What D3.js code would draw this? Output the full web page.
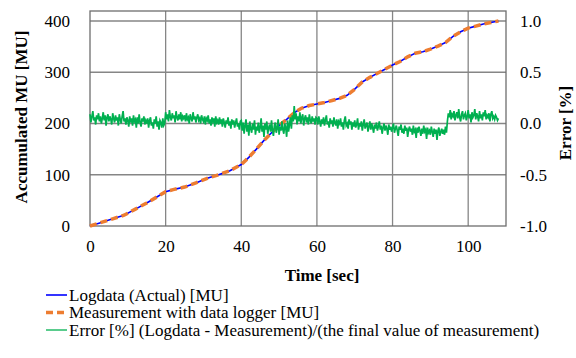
<!DOCTYPE html>
<html><head><meta charset="utf-8">
<script src="https://cdn.jsdelivr.net/npm/d3@7"></script>
<style>body{margin:0;background:#fff}svg{display:block}</style>
</head><body>
<svg id="c" width="576" height="358"></svg>
<script>
// ---- data ----
const xTicks = [0, 20, 40, 60, 80, 100];
const muTicks = [0, 100, 200, 300, 400];
const errTicks = [-1.0, -0.5, 0.0, 0.5, 1.0];

const logTime = [0,3,6,9,12,15,18,20,22,25,28,31,34,37,40,42,44,46,48,50,52,54,56,58,60,62,64,66,68,70,72,74,76,78,80,82,84,86,88,90,92,94,96,98,100,102,104,106,108];
const logMU   = [0,7,14,21,33,45,58,67,71,76,84,93,100,108,120,134,150,167,182,196,208,221,230,235,238,241,245,249,255,267,281,290,298,306,314,321,330,337,340,345,351,358,370,379,386,390,394,397,400];
const measMU  = [0,7,14,21,33,45,58,67,71,76,84,93,100,108,120,134,150,167,182,196,208,221,230,235,238,241,245,249,255,267,281,290,298,306,314,321,330,337,340,345,351,358,370,379,386,390,394,397,400];

const errInterval = 0.25; // seconds between error samples
const errPct = [
.09,.01,.07,.12,.03,.06,-.01,.08,.04,.10,.02,.07,.00,.05,.11,.03,.08,-.02,.06,.09,
.02,.07,.04,-.01,.10,.05,.01,.08,.03,.06,-.02,.09,.04,.00,.07,.12,.02,.05,-.01,.06,
.03,-.03,.07,.01,.05,-.02,.08,.02,.04,-.04,.06,.00,.09,.01,-.03,.05,.02,.07,-.01,.03,
.00,.05,-.04,.03,.06,-.02,.01,-.05,.04,.00,.07,-.03,.02,-.06,.03,.01,-.04,.05,-.02,.00,
.11,.04,.09,.02,.13,.06,.03,.10,.05,.08,.01,.12,.06,.03,.09,.04,.11,.02,.07,.05,
.08,.02,.10,.04,.06,.00,.09,.05,.02,.11,.04,.07,.01,.06,.09,.03,.05,.00,.08,.04,
.02,.07,-.01,.05,.03,.08,.00,.04,-.02,.06,.02,.05,-.03,.07,.01,.03,-.01,.06,.00,.04,
-.03,.05,.01,-.04,.03,.00,.06,-.02,.02,-.05,.04,-.01,.03,-.04,.01,.05,-.03,.00,-.06,.02,
.03,-.07,.01,-.10,-.02,.04,-.08,-.01,-.12,.02,-.05,-.09,.00,-.06,.03,-.11,-.03,-.07,.01,-.09,
-.04,.05,-.08,-.02,-.13,.00,-.06,.02,-.10,-.04,-.01,-.08,.03,-.07,-.12,-.02,.01,-.09,-.05,.04,
-.11,-.03,-.07,.02,-.06,-.10,.00,-.04,-.13,.03,-.08,-.01,.06,-.05,.08,.02,
.17,.04,.10,-.01,.07,.02,.11,.00,.06,.09,-.02,.05,.08,.01,.06,-.01,.09,.03,.00,.07,.02,.05,-.01,.06,
.05,-.01,.07,.02,-.03,.04,.00,.06,-.02,.03,.08,-.01,.02,-.04,.05,.00,.03,-.03,.06,.01,
-.02,.04,-.05,.02,.00,.05,-.03,.01,-.06,.03,.07,-.02,.00,-.05,.04,-.01,.02,-.06,.01,-.03,
.03,-.04,-.01,.05,-.06,.00,-.03,.02,-.07,-.01,.04,-.05,-.02,.01,-.08,-.03,.02,-.06,.00,-.04,
-.09,-.01,-.05,.01,-.07,-.03,.02,-.06,-.02,-.10,-.04,.00,-.07,-.02,-.05,-.11,-.01,-.06,-.03,-.08,
-.04,.00,-.09,-.05,-.02,-.07,-.12,-.03,-.06,-.01,-.09,-.05,-.10,-.02,-.07,-.04,-.13,-.06,-.03,-.08,
-.05,-.11,-.02,-.08,-.06,-.14,-.04,-.09,-.03,-.07,-.12,-.05,-.10,-.02,-.08,-.06,-.15,-.04,-.09,-.07,
-.11,-.03,-.08,-.13,-.05,-.10,-.06,-.16,-.07,-.04,-.12,-.08,-.05,-.10,-.06,-.11,-.03,-.09,
.02,.10,.06,.13,.04,.09,.07,.12,.03,.08,.11,.05,.14,.06,.02,.09,.12,.04,.08,.10,
.03,.07,.13,.05,.09,.01,.11,.06,.08,.14,.04,.10,.07,.02,.12,.05,.09,.03,.11,.07,
.13,.04,.08,.06,.10,.02,.09,.12,.05,.07,.04,.08,.06,.03,.05
];

const legendLabels = [
  "Logdata (Actual) [MU]",
  "Measurement with data logger [MU]",
  "Error [%] (Logdata - Measurement)/(the final value of measurement)"
];

// ---- layout ----
const svg = d3.select("#c");
const L = 90, R = 506, T = 11, B = 226;
const x = d3.scaleLinear().domain([0, 110]).range([L, R]);
const y = d3.scaleLinear().domain([0, 400]).range([B, 21]);
const y2 = d3.scaleLinear().domain([-1, 1]).range([B, 21]);
const font = "'Liberation Serif','Times New Roman',serif";
const fs = 17;

// gridlines
svg.append("g").selectAll("line").data(xTicks.filter(d => d > 0)).join("line")
  .attr("x1", d => x(d)).attr("x2", d => x(d)).attr("y1", T).attr("y2", B)
  .attr("stroke", "#868686").attr("stroke-width", 1.3);
svg.append("g").selectAll("line").data(muTicks.filter(d => d > 0)).join("line")
  .attr("x1", L).attr("x2", R).attr("y1", d => y(d)).attr("y2", d => y(d))
  .attr("stroke", "#868686").attr("stroke-width", 1.3);
svg.append("rect").attr("x", L).attr("y", T).attr("width", R - L).attr("height", B - T)
  .attr("fill", "none").attr("stroke", "#6e6e6e").attr("stroke-width", 1.3);

// axes (labels only)
const axB = d3.axisBottom(x).tickValues(xTicks).tickSize(0).tickPadding(14).tickFormat(d3.format("d"));
const gB = svg.append("g").attr("transform", `translate(0,${B})`).call(axB);
const axL = d3.axisLeft(y).tickValues(muTicks).tickSize(0).tickPadding(20).tickFormat(d3.format("d"));
const gL = svg.append("g").attr("transform", `translate(${L},0)`).call(axL);
const axR = d3.axisRight(y2).tickValues(errTicks).tickSize(0).tickPadding(14).tickFormat(d3.format(".1f"));
const gR = svg.append("g").attr("transform", `translate(${R},0)`).call(axR);
[gB, gL, gR].forEach(g => {
  g.select(".domain").remove();
  g.selectAll("text").attr("font-family", font).attr("font-size", fs).attr("fill", "#000");
});
gR.selectAll("text").text(d => d3.format(".1f")(d).replace("−", "-"));

// lines
const lineMU = d3.line().x(d => x(d[0])).y(d => y(d[1]));
svg.append("path").datum(logTime.map((t, i) => [t, logMU[i]]))
  .attr("d", lineMU).attr("fill", "none").attr("stroke", "#0000ff").attr("stroke-width", 1.6);
svg.append("path").datum(logTime.map((t, i) => [t, measMU[i]]))
  .attr("d", lineMU).attr("fill", "none").attr("stroke", "#ed7d31").attr("stroke-width", 3.5)
  .attr("stroke-dasharray", "7,4");
const lineErr = d3.line().x(d => x(d[0])).y(d => y2(d[1]));
svg.append("path").datum(errPct.map((v, i) => [i * errInterval, v]))
  .attr("d", lineErr).attr("fill", "none").attr("stroke", "#00b050").attr("stroke-width", 1.7);

// axis titles
svg.append("text").attr("x", 322).attr("y", 281).attr("text-anchor", "middle")
  .attr("font-family", font).attr("font-size", fs).attr("font-weight", "bold").text("Time [sec]");
svg.append("text").attr("transform", "translate(27,117) rotate(-90)").attr("text-anchor", "middle")
  .attr("font-family", font).attr("font-size", fs).attr("font-weight", "bold").text("Accumulated MU [MU]");
svg.append("text").attr("transform", "translate(571,123) rotate(-90)").attr("text-anchor", "middle")
  .attr("font-family", font).attr("font-size", fs).attr("font-weight", "bold").text("Error [%]");

// legend
const legY = [295, 312.5, 330];
const leg = svg.append("g");
const styles = [
  {c: "#0000ff", w: 1.6, dash: null},
  {c: "#ed7d31", w: 3.5, dash: "7,4"},
  {c: "#00b050", w: 1.3, dash: null}
];
legendLabels.forEach((lab, i) => {
  const ln = leg.append("line").attr("x1", 46).attr("x2", 67).attr("y1", legY[i]).attr("y2", legY[i])
    .attr("stroke", styles[i].c).attr("stroke-width", styles[i].w);
  if (styles[i].dash) ln.attr("stroke-dasharray", styles[i].dash);
  leg.append("text").attr("x", 69).attr("y", legY[i]).attr("dy", "0.35em")
    .attr("font-family", font).attr("font-size", fs).text(lab);
});
</script>
</body></html>
